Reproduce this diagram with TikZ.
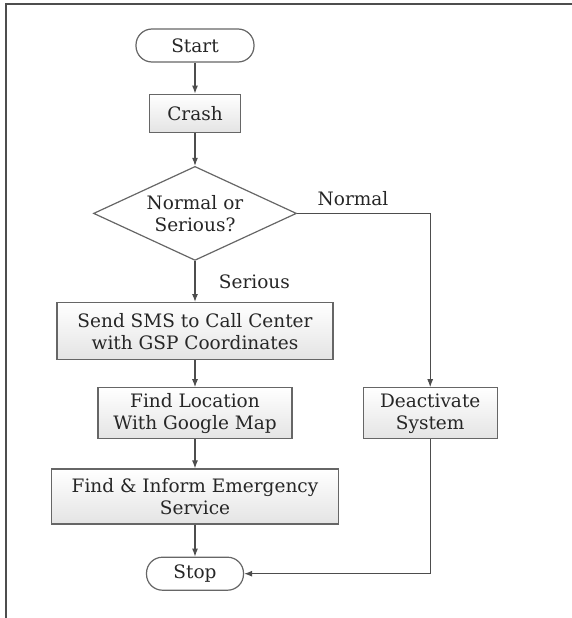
\documentclass[tikz,border=0pt]{standalone}
\usepackage{fontspec}
\setmainfont{DejaVu Serif}
\usetikzlibrary{positioning,arrows.meta,shapes.geometric}
\definecolor{cLine}{HTML}{4D4D4D}
\definecolor{cEdge}{HTML}{666666}
\definecolor{cText}{HTML}{262626}
\definecolor{cFill}{HTML}{E4E4E4}
\tikzset{
  node-box/.style={draw=cEdge,line width=1.2pt,top color=white,bottom color=cFill,
    text=cText,align=center,inner sep=2pt,
    font=\fontsize{18.5}{22}\selectfont},
  node-term/.style={node-box,rounded corners=16pt,bottom color=white},
  node-decide/.style={node-box,diamond,aspect=2.16,inner sep=0pt,
    top color=white,bottom color=white},
  arrow/.style={-{Latex[length=8pt,width=6pt]},line width=1.1pt,draw=cLine},
  edge-label/.style={text=cText,font=\fontsize{18.5}{22}\selectfont},
  frame-line/.style={draw=cLine,line width=1.6pt},
}
\begin{document}
\begin{tikzpicture}[x=1pt,y=-1pt]
  \useasboundingbox (0,0) rectangle (572,618);
  \draw[frame-line] (6,618) -- (6,4) -- (572,4);
  \node[node-term,minimum width=118pt,minimum height=33pt] (start) at (195,45.5) {Start};
  \node[node-box,below=31pt of start,minimum width=91pt,minimum height=38pt] (crash) {Crash};
  \node[node-decide,below=33pt of crash,minimum width=203pt,minimum height=94pt] (cls) {Normal or\\Serious?};
  \node[node-box,below=41pt of cls,minimum width=276pt,minimum height=57pt] (sms) {Send SMS to Call Center\\with GSP Coordinates};
  \node[node-box,below=27pt of sms,minimum width=194pt,minimum height=51pt] (loc) {Find Location\\With Google Map};
  \node[node-box,below=29pt of loc,minimum width=287pt,minimum height=55pt] (inform) {Find \& Inform Emergency\\Service};
  \node[node-term,below=32pt of inform,minimum width=97pt,minimum height=33pt] (stop) {Stop};
  \node[node-box,right=70pt of loc,minimum width=134pt,minimum height=51pt] (deact) {Deactivate\\System};
  \draw[arrow] (start) -- (crash);
  \draw[arrow] (crash) -- (cls);
  \draw[arrow] (cls) -- node[edge-label,right=20pt] {Serious} (sms);
  \draw[arrow] (cls.east) -| node[edge-label,above=4pt,pos=0.21] {Normal} (deact);
  \draw[arrow] (sms) -- (loc);
  \draw[arrow] (loc) -- (inform);
  \draw[arrow] (inform) -- (stop);
  \draw[arrow] (deact) |- (stop);
\end{tikzpicture}
\end{document}
